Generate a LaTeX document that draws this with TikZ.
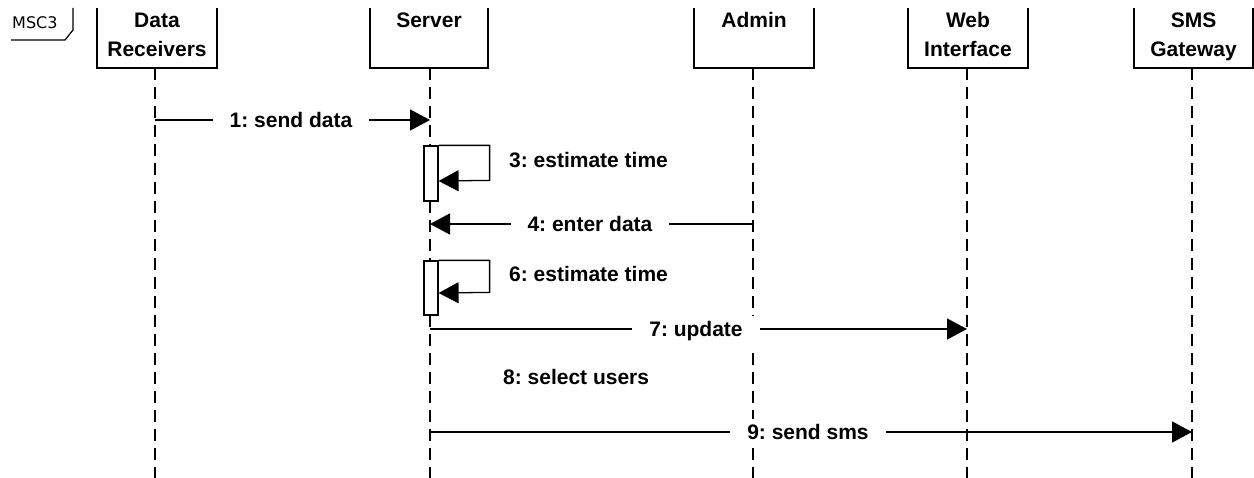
\documentclass[tikz,border=0pt]{standalone}
\usepackage{fontspec}
\setmainfont{Liberation Sans}
\newfontfamily\tabfont{DejaVu Sans}
\usetikzlibrary{arrows.meta}
\frenchspacing
\begin{document}
\begin{tikzpicture}[x=1pt,y=-1pt,
  every node/.style={inner sep=0pt, font=\fontsize{21}{29}\selectfont\bfseries},
  hdrbox/.style={line width=1.3pt},
  hdrtext/.style={anchor=base},
  lifeline/.style={line width=1.2pt, dash pattern=on 12pt off 7pt},
  msg/.style={line width=1.3pt, -{Triangle[length=20pt,width=21pt]}},
  lbl/.style={fill=white, inner xsep=17pt, inner ysep=5pt, anchor=base},
  note/.style={anchor=base west},
  actbar/.style={draw, fill=white, line width=1.2pt, minimum width=14pt, minimum height=#1},
]
\useasboundingbox (0,0) rectangle (1254,478);

% frame tab
\draw[line width=1.2pt] (11,40) -- (65,40) -- (73,30) -- (73,8);
\node[anchor=base west, font=\fontsize{16}{18}\selectfont\tabfont] (tab) at (12,29) {MSC3};

% participant headers
\draw[hdrbox] (97,8) |- (217,68) -- (217,8);
\draw[hdrbox] (370,8) |- (488,68) -- (488,8);
\draw[hdrbox] (694,8) |- (814,68) -- (814,8);
\draw[hdrbox] (908,8) |- (1028,68) -- (1028,8);
\draw[hdrbox] (1134,8) |- (1253,68) -- (1253,8);
\node[hdrtext] (dr) at (157,28) {\begin{tabular}[t]{c}Data\\Receivers\end{tabular}};
\node[hdrtext] (sv) at (429,28) {Server};
\node[hdrtext] (ad) at (754,28) {Admin};
\node[hdrtext] (wi) at (968,28) {\begin{tabular}[t]{c}Web\\Interface\end{tabular}};
\node[hdrtext] (sg) at (1193.5,28) {\begin{tabular}[t]{c}SMS\\Gateway\end{tabular}};

% lifeline anchors
\coordinate (dr-top) at (155,68);
\coordinate (sv-top) at (430,68);
\coordinate (ad-top) at (753,68);
\coordinate (wi-top) at (967,68);
\coordinate (sg-top) at (1192,68);
\coordinate (dr-end) at (155,478);
\coordinate (sv-end) at (430,478);
\coordinate (ad-end) at (753,478);
\coordinate (wi-end) at (967,478);
\coordinate (sg-end) at (1192,478);

% lifelines
\foreach \p in {dr,sv,ad,wi,sg}
  \draw[lifeline] (\p-top) -- (\p-end);

% message rows
\coordinate (y1) at (0,120);
\coordinate (y3) at (0,181);
\coordinate (y4) at (0,224);
\coordinate (y6) at (0,293);
\coordinate (y7) at (0,329);
\coordinate (y9) at (0,432);

% activations and self messages
\node[actbar=55pt] (act3) at (431,173.5) {};
\node[actbar=54pt] (act6) at (431,288) {};
\draw[msg] (act3.north east) -- ++(51,0) -- ++(0,35) -- (act3.east |- y3);
\draw[msg] (act6.north east) -- ++(51,0) -- ++(0,32) -- (act6.east |- y6);
\node[note] (m3) at (509,167.5) {3: estimate time};
\node[note] (m6) at (509,282) {6: estimate time};

% messages between lifelines
\draw[msg] (dr-top |- y1) -- (sv-top |- y1);
\draw[msg] (ad-top |- y4) -- (sv-top |- y4);
\draw[msg] (sv-top |- y7) -- (wi-top |- y7);
\draw[msg] (sv-top |- y9) -- (sg-top |- y9);

\node[lbl] (m1) at (291,127.5) {1: send data};
\node[lbl] (m4) at (590,232) {4: enter data};
\node[lbl] (m7) at (696,336.5) {7: update};
\node[lbl] (m9) at (808,439.5) {9: send sms};
\node[note] (m8) at (503,385) {8: select users};
\end{tikzpicture}
\end{document}
